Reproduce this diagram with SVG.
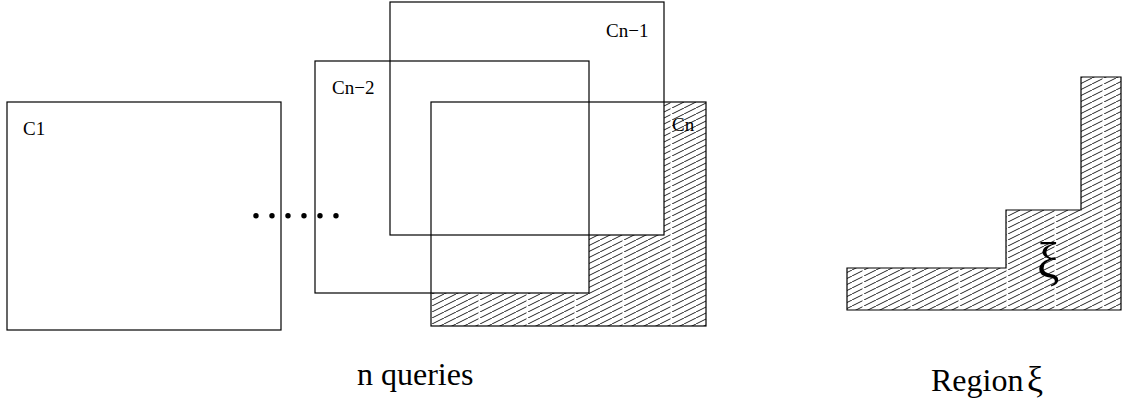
<svg xmlns="http://www.w3.org/2000/svg" width="1130" height="407" viewBox="0 0 1130 407">
<style>
.box{fill:none;stroke:#000;stroke-width:1.2}
.hatch{fill:url(#hatch);stroke:none}
.lbl{font-family:"Liberation Serif","Times New Roman",serif;font-size:19px;fill:#000}
.cap{font-family:"Liberation Serif","Times New Roman",serif;font-size:32px;fill:#000}
</style>
<defs>
<pattern id="hatch" patternUnits="userSpaceOnUse" x="0" y="0" width="48" height="6">
<g stroke="#222" stroke-width="1" fill="none">
<line x1="0" y1="6" x2="12" y2="0"/>
<line x1="12" y1="6" x2="24" y2="0"/>
<line x1="24" y1="6" x2="36" y2="0"/>
<line x1="36" y1="6" x2="46.5" y2="0.75"/>
</g>
</pattern>
</defs>
<g id="c1">
<rect class="box" x="7" y="102" width="274" height="228"/>
<text class="lbl" x="23" y="135">C1</text>
</g>
<g id="cn">
<polygon class="hatch" points="664,102 706,102 706,326 431,326 431,293 589,293 589,235 664,235"/>
<rect class="box" x="431" y="102" width="275" height="224"/>
<text class="lbl" x="672" y="131">Cn</text>
</g>
<g id="cn1">
<rect class="box" x="390" y="2" width="274" height="233"/>
<text class="lbl" x="606" y="37">Cn−1</text>
</g>
<g id="cn2">
<rect class="box" x="315" y="61" width="274" height="232"/>
<text class="lbl" x="332" y="94">Cn−2</text>
</g>
<g id="dots" fill="#000">
<circle cx="256" cy="215.7" r="2.7"/>
<circle cx="272" cy="215.7" r="2.7"/>
<circle cx="288" cy="215.7" r="2.7"/>
<circle cx="304" cy="215.7" r="2.7"/>
<circle cx="320" cy="215.7" r="2.7"/>
<circle cx="336" cy="215.7" r="2.7"/>
</g>
<g id="region">
<polygon points="1081,77 1121,77 1121,310 847,310 847,268 1006,268 1006,210 1081,210" fill="url(#hatch)" stroke="#000" stroke-width="1.2"/>
<text class="cap" x="1037" y="278" style="font-size:50px">ξ</text>
</g>
<g id="captions">
<text class="cap" x="357" y="385">n queries</text>
<text class="cap" x="931" y="391">Region<tspan x="1027" style="font-size:36px">ξ</tspan></text>
</g>
<g id="connectors"/>
</svg>
